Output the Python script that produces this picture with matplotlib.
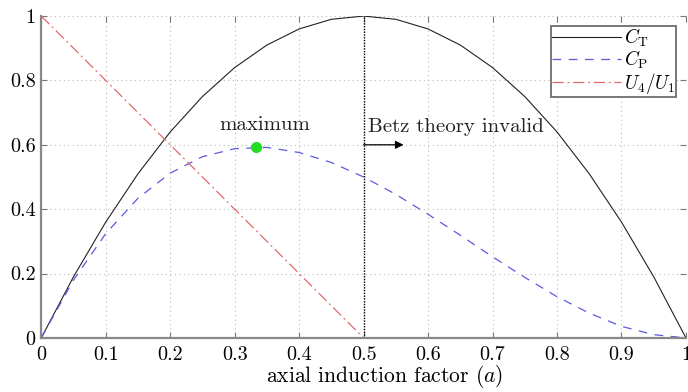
import numpy as np
import matplotlib
matplotlib.use("Agg")
import matplotlib.pyplot as plt
from matplotlib.ticker import FuncFormatter

plt.rcParams["font.family"] = "cmr10"
plt.rcParams["mathtext.fontset"] = "cm"
plt.rcParams["axes.formatter.use_mathtext"] = True

# axial induction factor samples and coefficients
a = [0.0, 0.05, 0.1, 0.15, 0.2, 0.25, 0.3, 0.35, 0.4, 0.45, 0.5,
     0.55, 0.6, 0.65, 0.7, 0.75, 0.8, 0.85, 0.9, 0.95, 1.0]
c_t = [0.0, 0.19, 0.36, 0.51, 0.64, 0.75, 0.84, 0.91, 0.96, 0.99, 1.0,
       0.99, 0.96, 0.91, 0.84, 0.75, 0.64, 0.51, 0.36, 0.19, 0.0]
c_p = [0.0, 0.18, 0.324, 0.434, 0.512, 0.563, 0.588, 0.592, 0.576, 0.545, 0.5,
       0.446, 0.384, 0.319, 0.252, 0.188, 0.128, 0.077, 0.036, 0.01, 0.0]
a_u = [0.0, 0.5]
u_ratio = [1.0, 0.0]
a_max, cp_max = 1 / 3, 0.593
a_betz = 0.5

fs = 14.5

fig = plt.figure(figsize=(6.88, 3.92), dpi=100)
ax = fig.add_axes([0.06, 0.138, 0.937, 0.821])

ax.plot(a, c_t, color="#222222", lw=0.8, label=r"$C_\mathrm{T}$")
ax.plot(a, c_p, color="#5a5ae0", lw=0.9, ls=(0, (7, 6)), label=r"$C_\mathrm{P}$")
ax.plot(a_u, u_ratio, color="#e06a6a", lw=0.9, ls=(0, (9, 3, 1.5, 3)),
        label=r"$U_4/U_1$")

ax.plot([a_betz, a_betz], [0, 1], color="black", lw=1.0, ls=(0, (1, 1)))
ax.annotate("", xy=(0.562, 0.6), xytext=(a_betz, 0.6),
            arrowprops=dict(arrowstyle="-|>", color="black", lw=0.9,
                            mutation_scale=12, shrinkA=0, shrinkB=0))
ax.text(0.507, 0.655, "Betz theory invalid", fontsize=15, color="#222222",
        ha="left", va="center")
ax.text(0.347, 0.66, "maximum", fontsize=15, color="#222222",
        ha="center", va="center")
ax.plot([a_max], [cp_max], "o", color="#22dd22", ms=7, zorder=5)

ax.set_xlim(0, 1)
ax.set_ylim(0, 1)
ax.set_xticks(np.arange(0, 1.01, 0.1))
ax.set_yticks(np.arange(0, 1.01, 0.2))
fmt = FuncFormatter(lambda v, p: f"{v:g}")
ax.xaxis.set_major_formatter(fmt)
ax.yaxis.set_major_formatter(fmt)
ax.tick_params(direction="in", top=True, right=True, length=4, width=0.8,
               color="#777777", labelsize=fs, pad=4)
ax.tick_params(axis="x", pad=6)
ax.grid(True, color="#bbbbbb", ls=(0, (1, 3)), lw=0.8)

for side in ["top", "right"]:
    ax.spines[side].set_visible(False)
for side in ["left", "bottom"]:
    ax.spines[side].set_color("#888888")
    ax.spines[side].set_linewidth(1.6)

ax.set_xlabel(r"axial induction factor $(a)$", fontsize=15.5, labelpad=-1,
              x=0.533)

leg = ax.legend(loc="upper right", bbox_to_anchor=(0.985, 0.97), fontsize=13.8,
                handlelength=3.6, fancybox=False, framealpha=1,
                borderpad=0.05, labelspacing=0.0, handletextpad=0.15,
                borderaxespad=0)
leg.get_frame().set_edgecolor("#777777")
leg.get_frame().set_linewidth(1.4)

fig.savefig("out.png", dpi=100)
